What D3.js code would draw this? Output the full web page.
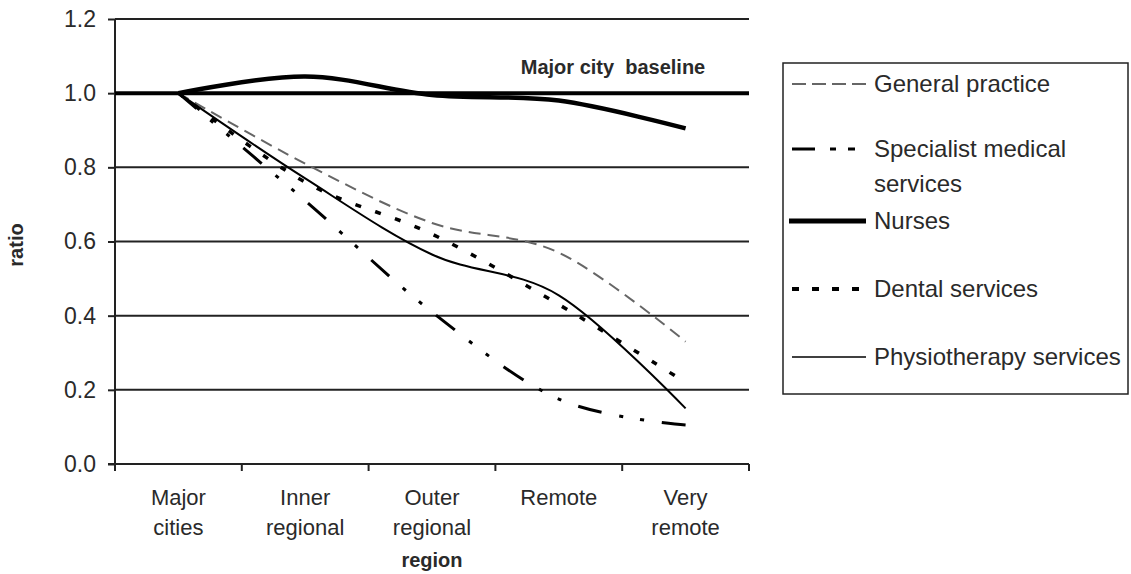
<!DOCTYPE html>
<html>
<head>
<meta charset="utf-8">
<script src="https://cdn.jsdelivr.net/npm/d3@7"></script>
<style>
  html, body { margin: 0; padding: 0; background: #fff; }
  svg { display: block; }
  text { font-family: "Liberation Sans", Arial, sans-serif; fill: #2a2a2a; }
</style>
</head>
<body>
<svg id="chart" width="1131" height="574"></svg>
<script>
// ---- data ----
const categories = ["Major cities", "Inner regional", "Outer regional", "Remote", "Very remote"];
const generalPractice = [1.0, 0.81, 0.65, 0.57, 0.33];
const specialistMedical = [1.0, 0.71, 0.41, 0.175, 0.105];
const nurses = [1.0, 1.045, 0.995, 0.98, 0.905];
const dentalServices = [1.0, 0.76, 0.62, 0.43, 0.22];
const physiotherapy = [1.0, 0.77, 0.565, 0.455, 0.15];
const baselineValue = 1.0;
const yTicks = [0.0, 0.2, 0.4, 0.6, 0.8, 1.0, 1.2];
const seriesNames = ["General practice", "Specialist medical services", "Nurses", "Dental services", "Physiotherapy services"];

// ---- layout ----
const svg = d3.select("#chart");
svg.append("rect").attr("width", 1131).attr("height", 574).attr("fill", "#fff");

const plot = { left: 115, right: 749, top: 19, bottom: 464 };
const y = d3.scaleLinear().domain([0, 1.2]).range([plot.bottom, plot.top]);
const xBand = d3.scaleBand().domain(categories).range([plot.left, plot.right]);
const x = d3.scalePoint().domain(categories).range([plot.left, plot.right]).padding(0.5);

// gridlines
svg.append("g").selectAll("line").data(yTicks.filter(d => d > 0 && d !== baselineValue)).join("line")
  .attr("x1", plot.left).attr("x2", plot.right)
  .attr("y1", d => y(d)).attr("y2", d => y(d))
  .attr("stroke", "#222").attr("stroke-width", 2);

// y axis
const yAxis = d3.axisLeft(y).tickValues(yTicks).tickFormat(d3.format(".1f")).tickSize(7).tickPadding(12);
const gy = svg.append("g").attr("transform", `translate(${plot.left},0)`).call(yAxis);
gy.select(".domain").attr("stroke", "#222").attr("stroke-width", 2).attr("d", `M0,${plot.top}V${plot.bottom}`);
gy.selectAll(".tick line").attr("stroke", "#222").attr("stroke-width", 2);
gy.selectAll(".tick text").attr("font-size", 23).attr("fill", "#333")
  .attr("font-family", '"Liberation Sans", Arial, sans-serif');

// x axis (ticks at category boundaries)
const boundaries = categories.map(c => xBand(c)).concat([plot.right]);
const gx = svg.append("g");
gx.append("line").attr("x1", plot.left - 7).attr("x2", plot.right)
  .attr("y1", plot.bottom).attr("y2", plot.bottom).attr("stroke", "#222").attr("stroke-width", 2);
gx.selectAll("line.tk").data(boundaries).join("line").attr("class", "tk")
  .attr("x1", d => d).attr("x2", d => d)
  .attr("y1", plot.bottom).attr("y2", plot.bottom + 7)
  .attr("stroke", "#222").attr("stroke-width", 2);
const catText = gx.selectAll("text.cat").data(categories).join("text").attr("class", "cat")
  .attr("x", d => x(d)).attr("y", 505).attr("text-anchor", "middle").attr("font-size", 22).attr("fill", "#333");
catText.each(function(d) {
  const words = d.split(" ");
  d3.select(this).selectAll("tspan").data(words).join("tspan")
    .attr("x", x(d)).attr("dy", (w, i) => i === 0 ? 0 : 30).text(w => w);
});

// axis titles
svg.append("text").attr("x", x(categories[2])).attr("y", 567).attr("text-anchor", "middle")
  .attr("font-size", 20).attr("font-weight", "bold").text("region");
svg.append("text").attr("transform", "translate(23,245) rotate(-90)").attr("text-anchor", "middle")
  .attr("font-size", 20).attr("font-weight", "bold").text("ratio");

// baseline
svg.append("line").attr("x1", plot.left).attr("x2", plot.right)
  .attr("y1", y(baselineValue)).attr("y2", y(baselineValue))
  .attr("stroke", "#000").attr("stroke-width", 4);
svg.append("text").attr("x", 613).attr("y", 74).attr("text-anchor", "middle")
  .attr("font-size", 20).attr("font-weight", "bold").attr("fill", "#222")
  .attr("xml:space", "preserve").text("Major city  baseline");

// series
const styles = [
  { data: generalPractice, stroke: "#666", width: 2, dash: "12,7", ldash: "14,6", lwidth: 2 },
  { data: specialistMedical, stroke: "#000", width: 3, dash: "24,18,4,17,4,18", ldash: "23,15,6,12,7,100", lwidth: 3 },
  { data: nurses, stroke: "#000", width: 4.5, dash: null, ldash: null, lwidth: 5 },
  { data: dentalServices, stroke: "#000", width: 3.5, dash: "6,15", ldash: "7,13", lwidth: 4 },
  { data: physiotherapy, stroke: "#000", width: 2, dash: null, ldash: null, lwidth: 1.5 }
];
const line = d3.line().x((d, i) => x(categories[i])).y(d => y(d)).curve(d3.curveCardinal.tension(0));
const drawOrder = [0, 3, 1, 4, 2];
drawOrder.forEach(k => {
  const s = styles[k];
  svg.append("path").datum(s.data).attr("d", line)
    .attr("fill", "none").attr("stroke", s.stroke).attr("stroke-width", s.width)
    .attr("stroke-dasharray", s.dash).attr("stroke-linejoin", "round");
});

// legend
const lg = svg.append("g");
lg.append("rect").attr("x", 783).attr("y", 63).attr("width", 345).attr("height", 331)
  .attr("fill", "#fff").attr("stroke", "#222").attr("stroke-width", 1.5);
const legendRows = [
  { y: 84, lines: ["General practice"] },
  { y: 149, lines: ["Specialist medical", "services"] },
  { y: 221, lines: ["Nurses"] },
  { y: 289, lines: ["Dental services"] },
  { y: 357, lines: ["Physiotherapy services"] }
];
legendRows.forEach((r, i) => {
  const s = styles[i];
  lg.append("line").attr("x1", i === 2 ? 789 : 792).attr("x2", 866)
    .attr("y1", r.y).attr("y2", r.y)
    .attr("stroke", s.stroke).attr("stroke-width", s.lwidth).attr("stroke-dasharray", s.ldash);
  const t = lg.append("text").attr("x", 874).attr("y", r.y + 8).attr("font-size", 24).attr("fill", "#333");
  t.selectAll("tspan").data(r.lines).join("tspan").attr("x", 874)
    .attr("dy", (w, j) => j === 0 ? 0 : 35).text(w => w);
});
</script>
</body>
</html>
